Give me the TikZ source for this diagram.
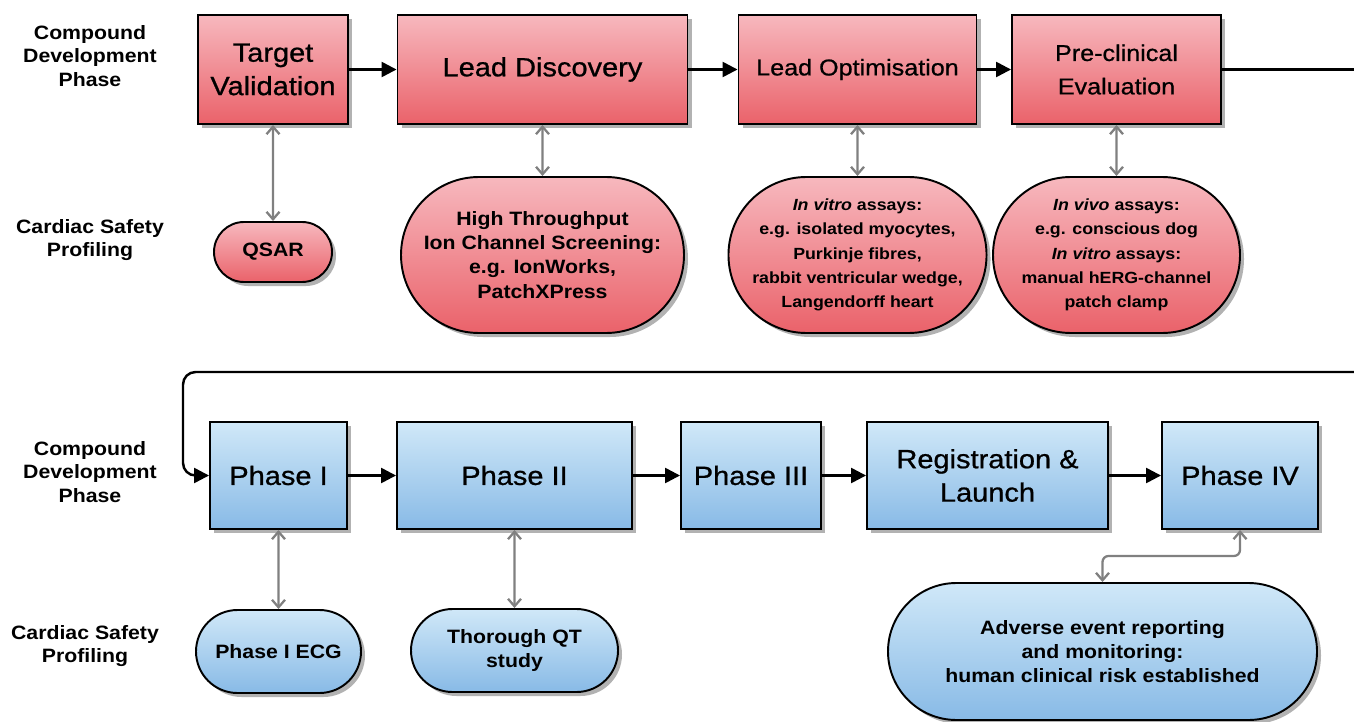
\documentclass[tikz,border=0pt]{standalone}
\usepackage{fontspec}
\setmainfont[FakeStretch=1.1]{Liberation Sans}
\newfontfamily\stagefont[FakeStretch=1.1,FakeBold=0.8]{Liberation Sans}
\usepackage{tikz}
\usetikzlibrary{arrows.meta,shapes.misc,shadows}

\definecolor{redtop}{RGB}{247,184,190}
\definecolor{redbot}{RGB}{234,98,106}
\definecolor{bluetop}{RGB}{208,232,248}
\definecolor{bluebot}{RGB}{136,186,230}
\definecolor{linkgray}{RGB}{128,128,128}

\tikzset{
    shade/.style={drop shadow={shadow xshift=0.08cm,shadow yshift=-0.08cm,fill=black!30,opacity=1}},
    stagebox/.style={shade,draw,line width=1.1pt,top color=redtop,bottom color=redbot,
        align=center,inner sep=0pt,minimum height=2.18cm,font=\stagefont\fontsize{15}{19}\selectfont},
    assay/.style={shade,rounded rectangle,draw,line width=1.1pt,top color=redtop,bottom color=redbot,
        align=center,inner sep=0pt,font=\fontsize{11}{13.7}\selectfont\bfseries},
    trialbox/.style={stagebox,top color=bluetop,bottom color=bluebot,minimum height=2.14cm},
    trialassay/.style={assay,top color=bluetop,bottom color=bluebot},
    sidelabel/.style={align=center,font=\fontsize{11}{13.6}\selectfont\bfseries},
    flow/.style={->,line width=1.4pt,>={Triangle[length=0.3cm,width=0.3cm]}},
    twoway/.style={<->,linkgray,line width=1.3pt,>={Straight Barb[length=0.15cm,width=0.26cm]}}
}

\begin{document}
\begin{tikzpicture}
            \useasboundingbox (0,0) rectangle (27.08,14.42);
            \node[sidelabel] (cdptop) at (1.8,13.3) {Compound\\Development\\Phase};
            \node[sidelabel] (csptop) at (1.8,9.62) {Cardiac Safety\\Profiling};
            \node[sidelabel] (cdpbot) at (1.8,4.98) {Compound\\Development\\Phase};
            \node[sidelabel] (cspbot) at (1.7,1.5) {Cardiac Safety\\Profiling};
            \node[stagebox,minimum width=3.0cm] (tv) at (5.46,13.03) {Target\\Validation};
            \node[stagebox,minimum width=5.8cm] (ld) at (10.85,13.03) {Lead Discovery};
            \node[stagebox,minimum width=4.76cm,font=\stagefont\fontsize{13}{19}\selectfont] (lo) at (17.15,13.03) {Lead Optimisation};
            \node[stagebox,minimum width=4.18cm,font=\stagefont\fontsize{13}{19}\selectfont] (pe) at (22.33,13.03) {Pre-clinical\\Evaluation};
            \node[assay,minimum width=2.36cm,minimum height=1.2cm] (qsar) at (5.46,9.38) {QSAR};
            \node[assay,minimum width=5.66cm,minimum height=3.12cm] (hts) at (10.85,9.32)
                {High Throughput\\Ion Channel Screening:\\e.g. IonWorks,\\PatchXPress};
            \node[assay,minimum width=4.8cm,minimum height=3.12cm,font=\fontsize{9.2}{13.8}\selectfont\bfseries] (ivt) at (17.15,9.32)
                {\textit{In vitro} assays:\\e.g. isolated myocytes,\\Purkinje fibres,\\rabbit ventricular wedge,\\Langendorff heart};
            \node[assay,minimum width=4.94cm,minimum height=3.12cm,font=\fontsize{9.2}{13.8}\selectfont\bfseries] (ivv) at (22.33,9.32)
                {\textit{In vivo} assays:\\e.g. conscious dog\\\textit{In vitro} assays:\\manual hERG-channel\\patch clamp};
            \node[trialbox,minimum width=2.74cm] (p1) at (5.57,4.91) {Phase I};
            \node[trialbox,minimum width=4.7cm] (p2) at (10.29,4.91) {Phase II};
            \node[trialbox,minimum width=2.8cm] (p3) at (15.02,4.91) {Phase III};
            \node[trialbox,minimum width=4.82cm] (rl) at (19.75,4.91) {Registration \&\\Launch};
            \node[trialbox,minimum width=3.12cm] (p4) at (24.8,4.91) {Phase IV};
            \node[trialassay,minimum width=3.3cm,minimum height=1.66cm] (ecg) at (5.57,1.39) {Phase I ECG};
            \node[trialassay,minimum width=4.14cm,minimum height=1.66cm] (tqt) at (10.29,1.41) {Thorough QT\\study};
            \node[trialassay,minimum width=8.58cm,minimum height=2.74cm] (ae) at (22.05,1.39)
                {Adverse event reporting\\and monitoring:\\human clinical risk established};
            \coordinate (edgetop) at (27.08,13.03);
            \coordinate (edgebot) at (27.08,6.98);
            \draw[flow] (tv) -- (ld);
            \draw[flow] (ld) -- (lo);
            \draw[flow] (lo) -- (pe);
            \draw[line width=1.4pt] (pe) -- (edgetop);
            \draw[flow,rounded corners=0.25cm] (edgebot) -- (3.66,6.98) |- (p1);
            \draw[flow] (p1) -- (p2);
            \draw[flow] (p2) -- (p3);
            \draw[flow] (p3) -- (rl);
            \draw[flow] (rl) -- (p4);
            \draw[twoway] (tv) -- (qsar);
            \draw[twoway] (ld) -- (hts);
            \draw[twoway] (lo) -- (ivt);
            \draw[twoway] (pe) -- (ivv);
            \draw[twoway] (p1) -- (ecg);
            \draw[twoway] (p2) -- (tqt);
            \draw[twoway,rounded corners=0.12cm] (p4.south) -- ++(0,-0.52) -| (ae.north);
        \end{tikzpicture}
\end{document}
